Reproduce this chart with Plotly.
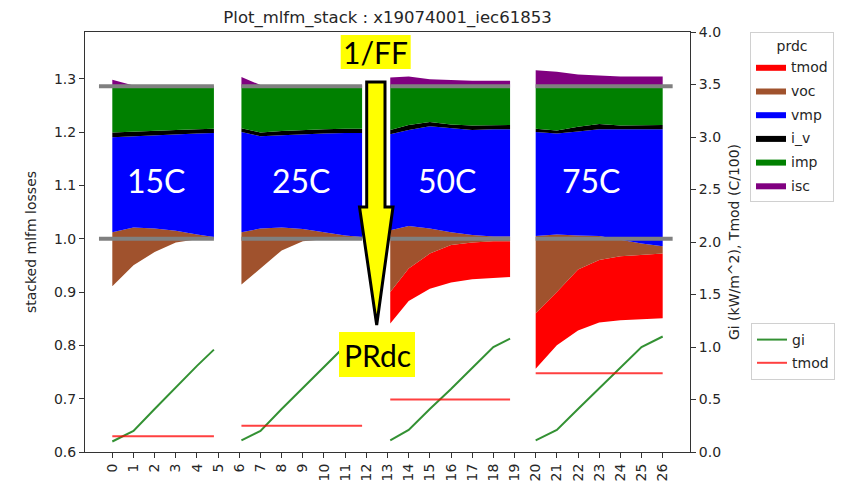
import plotly.graph_objects as go

# ---------------- data ----------------
group_sizes = [6, 7, 7, 7]
temp_labels = ["15C", "25C", "50C", "75C"]

x_pos = [0, 1, 2, 3, 4, 4.8,
         6.1, 7, 8, 9, 10, 11, 11.8,
         13.13, 14, 15, 16, 17, 18, 18.79,
         20, 21, 22, 23, 24, 25, 26]
x_ticks = list(range(27))

# stack levels (left axis): bottom = prdc, then top of each layer
prdc = [0.911, 0.950, 0.975, 0.993, 0.999, 1.000,
        0.914, 0.945, 0.978, 0.995, 0.999, 1.000, 1.000,
        0.841, 0.883, 0.906, 0.918, 0.924, 0.927, 0.928,
        0.756, 0.800, 0.828, 0.843, 0.847, 0.849, 0.851]
top_tmod = [0.911, 0.950, 0.975, 0.993, 0.999, 1.000,
            0.914, 0.945, 0.978, 0.995, 0.999, 1.000, 1.000,
            0.900, 0.944, 0.972, 0.988, 0.993, 0.995, 0.995,
            0.860, 0.900, 0.942, 0.960, 0.967, 0.970, 0.972]
top_voc = [1.012, 1.021, 1.019, 1.015, 1.008, 1.003,
           1.012, 1.019, 1.021, 1.018, 1.012, 1.006, 1.003,
           1.016, 1.024, 1.019, 1.012, 1.007, 1.004, 1.004,
           1.005, 1.008, 1.006, 1.005, 0.998, 0.991, 0.986]
top_vmp = [1.190, 1.192, 1.194, 1.196, 1.197, 1.198,
           1.200, 1.192, 1.194, 1.196, 1.197, 1.198, 1.198,
           1.196, 1.204, 1.211, 1.207, 1.204, 1.205, 1.205,
           1.200, 1.197, 1.201, 1.205, 1.205, 1.205, 1.205]
top_iv = [1.199, 1.201, 1.203, 1.204, 1.205, 1.206,
          1.207, 1.199, 1.202, 1.204, 1.205, 1.206, 1.206,
          1.204, 1.213, 1.219, 1.214, 1.212, 1.213, 1.213,
          1.206, 1.203, 1.210, 1.215, 1.212, 1.212, 1.213]
top_imp = [1.284, 1.284, 1.284, 1.284, 1.284, 1.284,
           1.284, 1.284, 1.284, 1.284, 1.284, 1.284, 1.284,
           1.284, 1.284, 1.284, 1.284, 1.284, 1.284, 1.284,
           1.284, 1.284, 1.284, 1.284, 1.284, 1.284, 1.284]
top_isc = [1.298, 1.287, 1.286, 1.286, 1.286, 1.286,
           1.303, 1.288, 1.287, 1.287, 1.287, 1.287, 1.287,
           1.302, 1.304, 1.299, 1.297, 1.296, 1.296, 1.296,
           1.316, 1.313, 1.308, 1.306, 1.304, 1.304, 1.304]

# right axis lines
gi = [0.10, 0.20, 0.41, 0.62, 0.82, 0.975,
      0.11, 0.20, 0.41, 0.61, 0.81, 1.01, 1.08,
      0.11, 0.21, 0.41, 0.60, 0.80, 1.00, 1.08,
      0.11, 0.21, 0.41, 0.61, 0.80, 1.00, 1.10]
tmod_c100 = [0.15, 0.15, 0.15, 0.15, 0.15, 0.15,
             0.25, 0.25, 0.25, 0.25, 0.25, 0.25, 0.25,
             0.50, 0.50, 0.50, 0.50, 0.50, 0.50, 0.50,
             0.75, 0.75, 0.75, 0.75, 0.75, 0.75, 0.75]

# reference levels
inv_ff = 1.2857
unity = 1.0
ref_x_extent = [[-0.63, 4.8], [6.1, 11.8], [13.13, 18.79], [20, 26.47]]

layers = [("tmod", top_tmod, "#FF0000"),
          ("voc", top_voc, "#A0522D"),
          ("vmp", top_vmp, "#0000FF"),
          ("i_v", top_iv, "#000000"),
          ("imp", top_imp, "#008000"),
          ("isc", top_isc, "#800080")]

# ---------------- figure ----------------
W, H = 866, 485
ML, MR, MT, MB = 85, 176, 32, 33
PW, PH = W - ML - MR, H - MT - MB

def px(x):
    return (x - ML) / PW

def py(y):
    return (H - MB - y) / PH

fig = go.Figure()

start = 0
for g, n in enumerate(group_sizes):
    sl = slice(start, start + n)
    xs = x_pos[sl]
    fig.add_trace(go.Scatter(x=xs, y=prdc[sl], mode="lines", line=dict(width=0),
                             showlegend=False, hoverinfo="skip", yaxis="y",
                             legendgroup="base"))
    for name, arr, col in layers:
        fig.add_trace(go.Scatter(x=xs, y=arr[sl], mode="lines", line=dict(width=0, color=col),
                                 fill="tonexty", fillcolor=col, name=name,
                                 legendgroup=name, showlegend=(g == 0), legend="legend",
                                 hoverinfo="skip", yaxis="y"))
    start += n

# reference grey lines
for ext in ref_x_extent:
    for lvl in (unity, inv_ff):
        fig.add_trace(go.Scatter(x=ext, y=[lvl, lvl], mode="lines",
                                 line=dict(color="#808080", width=4),
                                 showlegend=False, hoverinfo="skip", yaxis="y",
                                 legendgroup="ref"))

# right-axis lines
start = 0
for g, n in enumerate(group_sizes):
    sl = slice(start, start + n)
    xs = x_pos[sl]
    fig.add_trace(go.Scatter(x=xs, y=gi[sl], mode="lines", name="gi",
                             line=dict(color="rgba(0,118,0,0.8)", width=2),
                             legendgroup="gi", showlegend=(g == 0), legend="legend2",
                             yaxis="y2"))
    fig.add_trace(go.Scatter(x=xs, y=tmod_c100[sl], mode="lines", name="tmod",
                             line=dict(color="rgba(255,0,0,0.75)", width=2),
                             legendgroup="tmodline", showlegend=(g == 0), legend="legend2",
                             yaxis="y2"))
    start += n

axis_font = dict(family="DejaVu Sans", size=14, color="#262626")

fig.update_layout(
    width=W, height=H,
    margin=dict(l=ML, r=MR, t=MT, b=MB, pad=0, autoexpand=False),
    paper_bgcolor="white", plot_bgcolor="white",
    title=dict(text="Plot_mlfm_stack : x19074001_iec61853", x=0.5, xref="paper",
               y=1 - 17 / H, yref="container", yanchor="middle", xanchor="center",
               font=dict(family="DejaVu Sans", size=16.5, color="#262626")),
    xaxis=dict(range=[-1.29, 27.29], tickmode="array", tickvals=x_ticks,
               ticktext=[str(v) for v in x_ticks], tickangle=-90, automargin=False,
               showgrid=False, zeroline=False, showline=True, mirror=True,
               linecolor="#333", linewidth=1, ticks="outside", ticklen=5,
               tickcolor="#333", tickfont=axis_font),
    yaxis=dict(range=[0.6, 0.6 + PH / 533.3], tickmode="array", automargin=False,
               tickvals=[0.6, 0.7, 0.8, 0.9, 1.0, 1.1, 1.2, 1.3],
               ticktext=["0.6", "0.7", "0.8", "0.9", "1.0", "1.1", "1.2", "1.3"],
               showgrid=False, zeroline=False, showline=True, linecolor="#333",
               linewidth=1, ticks="outside", ticklen=5, tickcolor="#333",
               tickfont=axis_font,
               title=dict(text="stacked mlfm losses", font=axis_font, standoff=14)),
    yaxis2=dict(range=[0, 4.0], overlaying="y", side="right", tickmode="array",
                automargin=False,
                tickvals=[0, 0.5, 1, 1.5, 2, 2.5, 3, 3.5, 4],
                ticktext=["0.0", "0.5", "1.0", "1.5", "2.0", "2.5", "3.0", "3.5", "4.0"],
                showgrid=False, zeroline=False, showline=True, linecolor="#333",
                linewidth=1, ticks="outside", ticklen=5, tickcolor="#333",
                tickfont=axis_font,
                title=dict(text="Gi (kW/m^2), Tmod (C/100)", font=axis_font, standoff=9)),
    legend=dict(x=px(750), y=1.0, xanchor="left", yanchor="top",
                bordercolor="#d0d0d0", borderwidth=1, bgcolor="white",
                font=dict(family="DejaVu Sans", size=14, color="#262626"),
                title=dict(text="prdc", side="top center",
                           font=dict(family="DejaVu Sans", size=14, color="#262626")),
                traceorder="grouped", tracegroupgap=2.5),
    legend2=dict(x=px(751), y=py(323), xanchor="left", yanchor="top",
                 bordercolor="#d0d0d0", borderwidth=1, bgcolor="white",
                 font=dict(family="DejaVu Sans", size=14, color="#262626"),
                 traceorder="grouped", tracegroupgap=2),
)

# temperature labels
for lab, (lx, ly) in zip(temp_labels, [(2.1, 1.1095), (8.95, 1.1095), (15.84, 1.1095), (22.65, 1.1095)]):
    fig.add_annotation(x=lx, y=ly, xref="x", yref="y", text=lab, showarrow=False,
                       font=dict(family="Lato", size=32, color="white"),
                       xanchor="center", yanchor="middle")

# yellow label boxes
for (x0, y0, x1, y1) in [(340.7, 35, 410.7, 69), (339, 332, 415, 377)]:
    fig.add_shape(type="rect", xref="paper", yref="paper",
                  x0=px(x0), x1=px(x1), y0=py(y1), y1=py(y0),
                  fillcolor="#FFFF00", line=dict(width=0), layer="above")
fig.add_annotation(x=px(375.7), y=py(52), xref="paper", yref="paper", text="1/FF",
                   showarrow=False, font=dict(family="Lato", size=30, color="black"),
                   xanchor="center", yanchor="middle")
fig.add_annotation(x=px(377), y=py(354.5), xref="paper", yref="paper", text="PRdc",
                   showarrow=False, font=dict(family="Lato", size=30, color="black"),
                   xanchor="center", yanchor="middle")

# big yellow arrow
pts = [(366.7, 82), (385, 82), (385, 207), (393, 207), (376.7, 325),
       (359.5, 207), (366.7, 207)]
path = "M " + " L ".join(f"{px(a):.5f},{py(b):.5f}" for a, b in pts) + " Z"
fig.add_shape(type="path", xref="paper", yref="paper", path=path,
              fillcolor="#FFFF00", line=dict(color="black", width=3), layer="above")

fig.write_html("out.html")
